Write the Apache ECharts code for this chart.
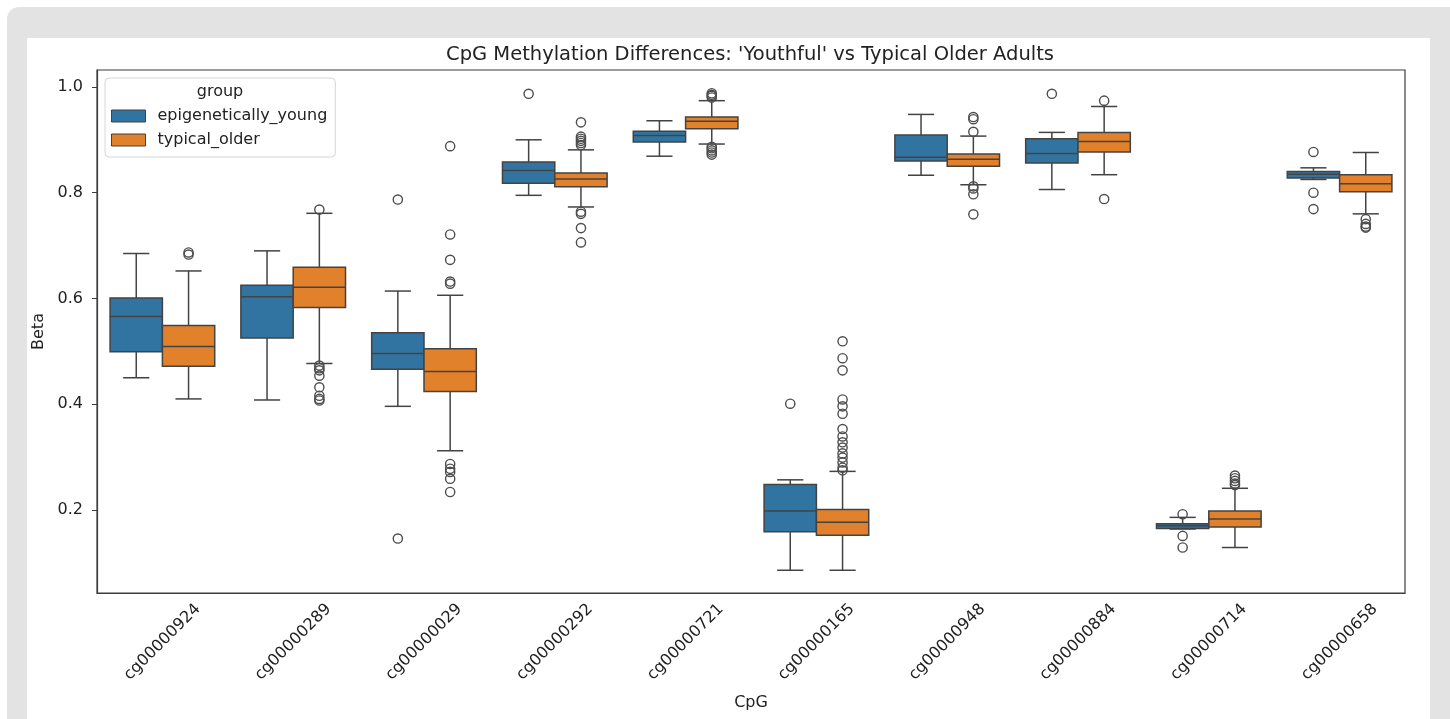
<!DOCTYPE html>
<html>
<head>
<meta charset="utf-8">
<title>CpG Methylation Differences</title>
<script src="https://cdn.jsdelivr.net/npm/echarts@6/dist/echarts.min.js"></script>
<style>
  html, body { margin: 0; padding: 0; background: #fff; }
  .frame {
    position: absolute; left: 7px; top: 7px; width: 1443px; height: 720px;
    background: #e3e3e3; border-radius: 12px 0 0 0;
  }
  .card { position: absolute; left: 27px; top: 38px; width: 1403px; height: 681px; background: #fff; }
  #chart { position: absolute; left: 0; top: 0; width: 1450px; height: 719px; }
</style>
</head>
<body>
<div class="frame"></div>
<div class="card"></div>
<div id="chart"></div>
<script>
// CpG sites on the x axis
const cpgs = ['cg00000924', 'cg00000289', 'cg00000029', 'cg00000292', 'cg00000721',
  'cg00000165', 'cg00000948', 'cg00000884', 'cg00000714', 'cg00000658']

// box stats per site: [low whisker, q1, median, q3, high whisker]
const youngBoxes = [
  [0.450, 0.499, 0.566, 0.601, 0.685],
  [0.408, 0.525, 0.603, 0.625, 0.690],
  [0.396, 0.466, 0.496, 0.535, 0.614],
  [0.795, 0.818, 0.842, 0.858, 0.900],
  [0.869, 0.896, 0.908, 0.916, 0.936],
  [0.086, 0.159, 0.198, 0.248, 0.257],
  [0.833, 0.860, 0.867, 0.909, 0.948],
  [0.806, 0.856, 0.874, 0.902, 0.914],
  [0.164, 0.165, 0.170, 0.174, 0.186],
  [0.825, 0.828, 0.835, 0.840, 0.847]
]
const olderBoxes = [
  [0.410, 0.472, 0.509, 0.549, 0.652],
  [0.477, 0.583, 0.621, 0.659, 0.761],
  [0.312, 0.424, 0.462, 0.505, 0.606],
  [0.773, 0.811, 0.826, 0.837, 0.881],
  [0.892, 0.921, 0.935, 0.943, 0.974],
  [0.086, 0.152, 0.177, 0.201, 0.273],
  [0.815, 0.850, 0.863, 0.873, 0.907],
  [0.834, 0.877, 0.897, 0.914, 0.963],
  [0.129, 0.168, 0.183, 0.198, 0.241],
  [0.760, 0.802, 0.817, 0.834, 0.876]
]

// outlier points per site
const youngOutliers = [
  [],
  [],
  [0.787, 0.146],
  [0.987],
  [],
  [0.401],
  [],
  [0.987],
  [0.192, 0.151, 0.129],
  [0.877, 0.800, 0.769]
]
const olderOutliers = [
  [0.687, 0.683],
  [0.768, 0.473, 0.468, 0.464, 0.454, 0.432, 0.416, 0.410, 0.407],
  [0.888, 0.721, 0.673, 0.632, 0.628, 0.287, 0.278, 0.272, 0.259, 0.234],
  [0.933, 0.906, 0.902, 0.898, 0.894, 0.890, 0.764, 0.760, 0.733, 0.706],
  [0.988, 0.985, 0.983, 0.980, 0.887, 0.884, 0.880, 0.876, 0.872],
  [0.519, 0.487, 0.464, 0.409, 0.396, 0.382, 0.353, 0.339, 0.328, 0.318, 0.307, 0.299, 0.290, 0.280, 0.275],
  [0.943, 0.939, 0.915, 0.812, 0.808, 0.797, 0.759],
  [0.974, 0.788],
  [0.265, 0.260, 0.255, 0.250, 0.247],
  [0.750, 0.741, 0.736, 0.734]
]

const yTicks = [0.2, 0.4, 0.6, 0.8, 1.0]

const BLUE = '#3274a1'
const ORANGE = '#e1812c'
const LINE = '#434343'
const FONT = 'DejaVu Sans'

// seaborn puts the two hue boxes side by side, 0.4 of the band each
function boxRenderer(side) {
  return function (params, api) {
    const i = api.value(0)
    const band = api.size([1, 0])[0]
    const w = band * 0.4
    const cx = api.coord([i, 0])[0] + side * w / 2
    const y = v => api.coord([i, v])[1]
    const lo = y(api.value(1)), q1 = y(api.value(2)), md = y(api.value(3))
    const q3 = y(api.value(4)), hi = y(api.value(5))
    const ls = { stroke: LINE, lineWidth: 1.5 }
    return {
      type: 'group',
      children: [
        { type: 'line', shape: { x1: cx, y1: q3, x2: cx, y2: hi }, style: ls },
        { type: 'line', shape: { x1: cx, y1: q1, x2: cx, y2: lo }, style: ls },
        { type: 'line', shape: { x1: cx - w / 4, y1: hi, x2: cx + w / 4, y2: hi }, style: ls },
        { type: 'line', shape: { x1: cx - w / 4, y1: lo, x2: cx + w / 4, y2: lo }, style: ls },
        { type: 'rect', shape: { x: cx - w / 2, y: q3, width: w, height: q1 - q3 },
          style: { fill: api.visual('color'), stroke: LINE, lineWidth: 1.5 } },
        { type: 'line', shape: { x1: cx - w / 2, y1: md, x2: cx + w / 2, y2: md }, style: ls }
      ]
    }
  }
}

function outlierRenderer(side) {
  return function (params, api) {
    const i = api.value(0)
    const w = api.size([1, 0])[0] * 0.4
    const p = api.coord([i, api.value(1)])
    return {
      type: 'circle',
      shape: { cx: p[0] + side * w / 2, cy: p[1], r: 4.6 },
      style: { fill: 'none', stroke: '#4d4d4d', lineWidth: 1.4 }
    }
  }
}

const boxData = boxes => boxes.map((b, i) => [i].concat(b))
const outlierData = outs => {
  const res = []
  outs.forEach((arr, i) => arr.forEach(v => res.push([i, v])))
  return res
}

const chart = echarts.init(document.getElementById('chart'))

const option = {
  animation: false,
  color: [BLUE, ORANGE],
  textStyle: { fontFamily: FONT },
  title: {
    text: "CpG Methylation Differences: 'Youthful' vs Typical Older Adults",
    left: 745,
    top: 40,
    textAlign: 'center',
    textStyle: { fontFamily: FONT, fontSize: 19.5, fontWeight: 'normal', color: '#222' }
  },
  graphic: [{
    type: 'text',
    z: 100,
    x: 220,
    y: 92,
    style: {
      text: 'group', fontFamily: FONT, fontSize: 16, fill: '#222',
      align: 'center', verticalAlign: 'middle'
    }
  }],
  legend: {
    orient: 'vertical',
    left: 105,
    top: 78,
    padding: [30, 8, 9, 6],
    itemWidth: 34,
    itemHeight: 12,
    itemGap: 8,
    backgroundColor: '#fff',
    borderColor: '#d6d6d6',
    borderWidth: 1,
    borderRadius: 4,
    textStyle: { fontFamily: FONT, fontSize: 16, color: '#222', lineHeight: 16, padding: [0, 0, 0, 7] },
    data: [
      { name: 'epigenetically_young', icon: 'rect', itemStyle: { color: BLUE, borderColor: LINE, borderWidth: 1 } },
      { name: 'typical_older', icon: 'rect', itemStyle: { color: ORANGE, borderColor: LINE, borderWidth: 1 } }
    ]
  },
  grid: {
    left: 97,
    right: 45,
    top: 70,
    bottom: 126,
    show: true,
    borderColor: '#3d3d3d',
    borderWidth: 1.2
  },
  xAxis: {
    type: 'category',
    data: cpgs,
    name: 'CpG',
    nameLocation: 'middle',
    nameGap: 102,
    nameTextStyle: { fontFamily: FONT, fontSize: 16, color: '#222' },
    axisLine: { lineStyle: { color: '#3d3d3d', width: 1.2 } },
    axisTick: { alignWithLabel: true, length: 5, lineStyle: { color: '#3d3d3d' } },
    axisLabel: {
      rotate: 45,
      align: 'center',
      verticalAlign: 'middle',
      margin: 49,
      fontFamily: FONT,
      fontSize: 16,
      color: '#222',
      interval: 0
    },
    splitLine: { show: false }
  },
  yAxis: {
    type: 'value',
    min: 0.043,
    max: 1.032,
    name: 'Beta',
    nameLocation: 'middle',
    nameRotate: 90,
    nameGap: 41,
    nameTextStyle: { fontFamily: FONT, fontSize: 16, color: '#222' },
    axisLine: { show: true, lineStyle: { color: '#3d3d3d', width: 1.2 } },
    axisTick: { show: true, length: 5, customValues: yTicks, lineStyle: { color: '#3d3d3d' } },
    axisLabel: {
      customValues: yTicks,
      margin: 14,
      fontFamily: FONT,
      fontSize: 16,
      color: '#222',
      formatter: v => v.toFixed(1)
    },
    splitLine: { show: false }
  },
  series: [
    {
      name: 'epigenetically_young',
      type: 'custom',
      renderItem: boxRenderer(-1),
      encode: { x: 0, y: [1, 2, 3, 4, 5] },
      itemStyle: { color: BLUE },
      data: boxData(youngBoxes)
    },
    {
      name: 'typical_older',
      type: 'custom',
      renderItem: boxRenderer(1),
      encode: { x: 0, y: [1, 2, 3, 4, 5] },
      itemStyle: { color: ORANGE },
      data: boxData(olderBoxes)
    },
    {
      name: 'young outliers',
      type: 'custom',
      renderItem: outlierRenderer(-1),
      encode: { x: 0, y: 1 },
      data: outlierData(youngOutliers)
    },
    {
      name: 'older outliers',
      type: 'custom',
      renderItem: outlierRenderer(1),
      encode: { x: 0, y: 1 },
      data: outlierData(olderOutliers)
    }
  ]
}

chart.setOption(option)
</script>
</body>
</html>
